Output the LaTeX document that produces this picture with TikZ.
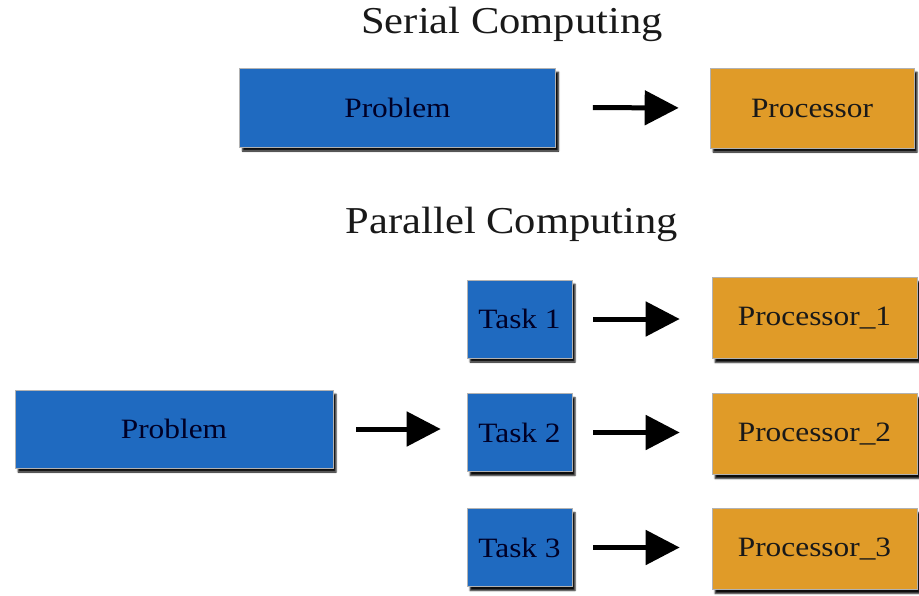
\documentclass[tikz,border=0pt]{standalone}
\usepackage{fontspec}
\setmainfont[FakeStretch=1.12]{Liberation Serif}
\usetikzlibrary{arrows.meta,shadows.blur}
\definecolor{taskblue}{RGB}{31,106,192}
\definecolor{procorange}{RGB}{224,155,40}
\tikzset{
  x=1pt, y=1pt,
  box/.style={rectangle, inner sep=0pt, draw=black!30, line width=0.6pt,
    blur shadow={shadow xshift=3pt, shadow yshift=-4pt, shadow opacity=95, shadow blur radius=1.5pt},
    font=\fontsize{28}{32}\selectfont, text=black!90},
  bluebox/.style={box, fill=taskblue, text=black!85!blue},
  orangebox/.style={box, fill=procorange},
  title/.style={font=\fontsize{38}{42}\selectfont, text=black!90},
  flow/.style={line width=5pt, -{Triangle[length=34pt,width=34pt]}}
}
\begin{document}
\begin{tikzpicture}
\useasboundingbox (0,0) rectangle (919,-595);

% serial part
\node[title] (sertitle) at (512,-24) {Serial Computing};
\node[bluebox, minimum width=316pt, minimum height=79pt] (sprob) at (397.5,-107.5) {Problem};
\node[orangebox, minimum width=204pt, minimum height=80pt] (sproc) at (812,-108) {Processor};
\draw[flow, shorten <=37pt, shorten >=31pt] (sprob.east) -- (sproc.west);

% parallel part
\node[title] (partitle) at (512,-224) {Parallel Computing};
\node[bluebox, minimum width=318pt, minimum height=78pt] (pprob) at (174,-429) {Problem};

\node[bluebox, minimum width=105pt, minimum height=78pt] (t1) at (519.5,-319) {Task 1};
\node[bluebox, minimum width=105pt, minimum height=78pt] (t2) at (519.5,-432.5) {Task 2};
\node[bluebox, minimum width=105pt, minimum height=78pt] (t3) at (519.5,-547.5) {Task 3};

\node[orangebox, minimum width=205pt, minimum height=81pt] (p1) at (814.5,-318) {Processor\_1};
\node[orangebox, minimum width=205pt, minimum height=81pt] (p2) at (814.5,-434) {Processor\_2};
\node[orangebox, minimum width=205pt, minimum height=81pt] (p3) at (814.5,-549) {Processor\_3};

\draw[flow, shorten <=23pt, shorten >=26pt] (pprob.east) -- (pprob.east -| t2.west);
\draw[flow, shorten <=21pt, shorten >=32pt] (t1.east) -- (t1.east -| p1.west);
\draw[flow, shorten <=21pt, shorten >=32pt] (t2.east) -- (t2.east -| p2.west);
\draw[flow, shorten <=21pt, shorten >=32pt] (t3.east) -- (t3.east -| p3.west);
\end{tikzpicture}
\end{document}
